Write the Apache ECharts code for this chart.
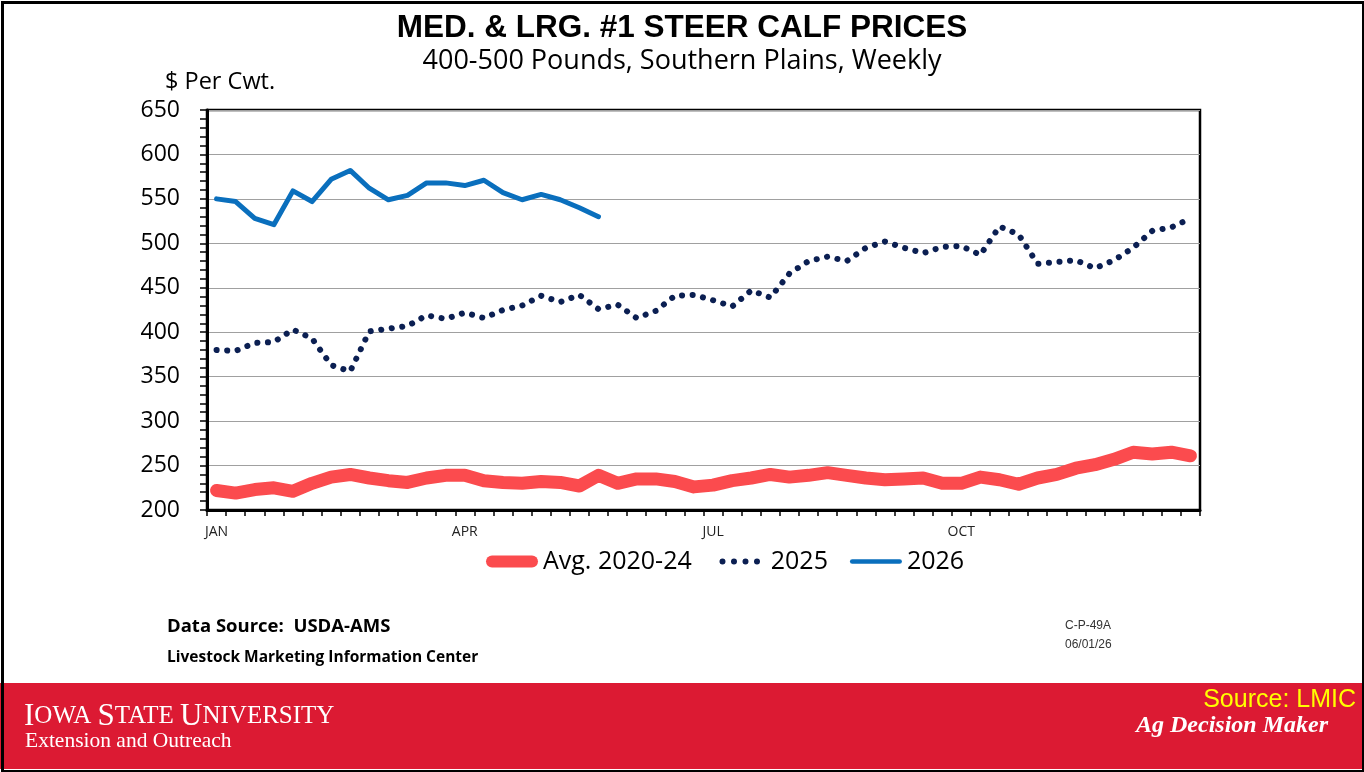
<!DOCTYPE html>
<html>
<head>
<meta charset="utf-8">
<script src="https://cdn.jsdelivr.net/npm/echarts@6/dist/echarts.min.js"></script>
<style>
  html, body { margin: 0; padding: 0; background: #fff; }
  #chart { width: 1364px; height: 772px; }
</style>
</head>
<body>
<div id="chart"></div>
<script>
  // weekly categories, 52 weeks
  var weeks = [];
  for (var w = 1; w <= 52; w++) { weeks.push('W' + w); }
  var monthLabels = { 0: 'JAN', 13: 'APR', 26: 'JUL', 39: 'OCT' };

  var avg2020_24 = [222,219,223,225,221,230,237,240,236,233,
                    231,236,239,239,233,231,230,232,231,227,
                    239,230,235,235,232,226,228,233,236,240,
                    237,239,242,239,236,234,235,236,230,230,
                    237,234,229,236,240,247,251,257,265,263,
                    265,261];
  var y2025 = [380,379,388,389,403,393,363,356,401,404,
               407,419,415,422,416,425,430,441,434,442,
               426,431,416,424,441,442,436,429,447,439,
               466,480,485,480,495,502,495,489,496,497,
               487,519,510,477,479,481,472,481,495,514,
               518,528];
  var y2026 = [550,547,528,521,559,547,572,582,562,549,
               554,568,568,565,571,557,549,555,549,540,
               530];

  var RED = '#fb4b4e', NAVY = '#0b1f52', BLUE = '#0a6fbd';

  var myChart = echarts.init(document.getElementById('chart'));

  myChart.setOption({
    animation: false,
    backgroundColor: '#fff',
    title: [{
      text: 'MED. & LRG. #1 STEER CALF PRICES',
      left: 'center', top: 7,
      textStyle: { fontFamily: 'Liberation Sans', fontWeight: 'bold', fontSize: 31.5, color: '#000' }
    }, {
      text: '400-500 Pounds, Southern Plains, Weekly',
      left: 'center', top: 43,
      textStyle: { fontFamily: 'Open Sans', fontWeight: 'normal', fontSize: 27, color: '#000' }
    }, {
      text: '$ Per Cwt.',
      left: 160, top: 65,
      textStyle: { fontFamily: 'Open Sans', fontWeight: 'normal', fontSize: 23.5, color: '#000' }
    }],
    legend: {
      top: 544,
      left: 481,
      itemWidth: 52,
      itemHeight: 14,
      itemGap: 22,
      textStyle: { fontFamily: 'Open Sans', fontSize: 25, color: '#000' },
      data: [{
        name: 'Avg. 2020-24',
        icon: 'path://M6,0 L46,0 A6,6 0 0 1 46,12 L6,12 A6,6 0 0 1 6,0 Z',
        itemStyle: { color: RED }
      }, {
        name: '2025',
        icon: 'path://M-5.75,3 L-5.75,3.01Z M0,3a3,3 0 1 0 6,0a3,3 0 1 0 -6,0Z M11.5,3a3,3 0 1 0 6,0a3,3 0 1 0 -6,0Z M23,3a3,3 0 1 0 6,0a3,3 0 1 0 -6,0Z M34.5,3a3,3 0 1 0 6,0a3,3 0 1 0 -6,0Z M46.25,3 L46.25,3.01Z',
        itemStyle: { color: NAVY }
      }, {
        name: '2026',
        icon: 'path://M2,0 L48,0 A2,2 0 0 1 48,4.5 L2,4.5 A2,2 0 0 1 2,0 Z',
        itemStyle: { color: BLUE }
      }]
    },
    grid: {
      show: true,
      left: 207, right: 164, top: 110, bottom: 262,
      borderColor: '#000', borderWidth: 2.5
    },
    xAxis: {
      type: 'category',
      data: weeks,
      boundaryGap: true,
      axisLine: { lineStyle: { color: '#000', width: 3 } },
      axisTick: { show: true, interval: 0, length: 6, lineStyle: { color: '#000', width: 1.5 } },
      axisLabel: {
        interval: 0,
        margin: 15,
        fontFamily: 'Open Sans', fontSize: 14, color: '#222',
        formatter: function (v, i) { return monthLabels[i] || ''; }
      },
      splitLine: { show: false }
    },
    yAxis: {
      type: 'value',
      min: 200, max: 650, interval: 50,
      axisLine: { show: true, lineStyle: { color: '#000', width: 3 } },
      axisTick: { show: true, length: 7, lineStyle: { color: '#000', width: 1.5 } },
      minorTick: { show: true, splitNumber: 5, length: 7, lineStyle: { color: '#000', width: 1.5 } },
      axisLabel: { margin: 27, fontFamily: 'Open Sans', fontSize: 23, color: '#000' },
      splitLine: { show: true, lineStyle: { color: '#a0a0a0', width: 1.2 } }
    },
    series: [{
      name: 'Avg. 2020-24',
      type: 'line',
      data: avg2020_24,
      symbol: 'none',
      z: 2,
      itemStyle: { color: RED },
      lineStyle: { color: RED, width: 13, cap: 'round', join: 'round' }
    }, {
      name: '2025',
      type: 'line',
      data: y2025,
      symbol: 'none',
      z: 3,
      itemStyle: { color: NAVY },
      lineStyle: { color: NAVY, width: 6, type: [0.1, 10.5], cap: 'round', join: 'round' }
    }, {
      name: '2026',
      type: 'line',
      data: y2026,
      symbol: 'none',
      z: 4,
      itemStyle: { color: BLUE },
      lineStyle: { color: BLUE, width: 5, join: 'round', cap: 'round' }
    }],
    graphic: [
      // footer notes
      { type: 'text', left: 167, top: 617, style: { text: 'Data Source:  USDA-AMS', fontFamily: 'Open Sans', fontWeight: 'bold', fontSize: 18.5, fill: '#000' } },
      { type: 'text', left: 167, top: 650, style: { text: 'Livestock Marketing Information Center', fontFamily: 'Open Sans', fontWeight: 'bold', fontSize: 15.5, fill: '#000' } },
      { type: 'text', left: 1065, top: 620, style: { text: 'C-P-49A', fontFamily: 'Liberation Sans', fontSize: 12, fill: '#333' } },
      { type: 'text', left: 1065, top: 639, style: { text: '06/01/26', fontFamily: 'Liberation Sans', fontSize: 12, fill: '#333' } },
      // red band
      { type: 'rect', left: 0, top: 683, shape: { width: 1364, height: 86 }, style: { fill: '#dc1a33' }, z: 0 },
      {
        type: 'text', left: 24, top: 701, z: 5,
        style: {
          text: '{b|I}{s|OWA }{b|S}{s|TATE }{b|U}{s|NIVERSITY}',
          fill: '#fff',
          rich: {
            b: { fontFamily: 'Liberation Serif', fontSize: 31, fill: '#fff' },
            s: { fontFamily: 'Liberation Serif', fontSize: 25, fill: '#fff' }
          }
        }
      },
      { type: 'text', left: 25, top: 730, z: 5, style: { text: 'Extension and Outreach', fontFamily: 'Liberation Serif', fontSize: 21.5, fill: '#fff' } },
      { type: 'text', right: 8, top: 688, z: 5, style: { text: 'Source: LMIC', fontFamily: 'Liberation Sans', fontSize: 25, fill: '#ffff00' } },
      { type: 'text', right: 36, top: 714, z: 5, style: { text: 'Ag Decision Maker', fontFamily: 'Liberation Serif', fontStyle: 'italic', fontWeight: 'bold', fontSize: 24, fill: '#fff' } },
      // outer frame
      { type: 'rect', left: 0, top: 0, shape: { x: 1.5, y: 1.5, width: 1361, height: 769 }, style: { fill: 'none', stroke: '#000', lineWidth: 3 }, z: 10 }
    ]
  });
</script>
</body>
</html>
